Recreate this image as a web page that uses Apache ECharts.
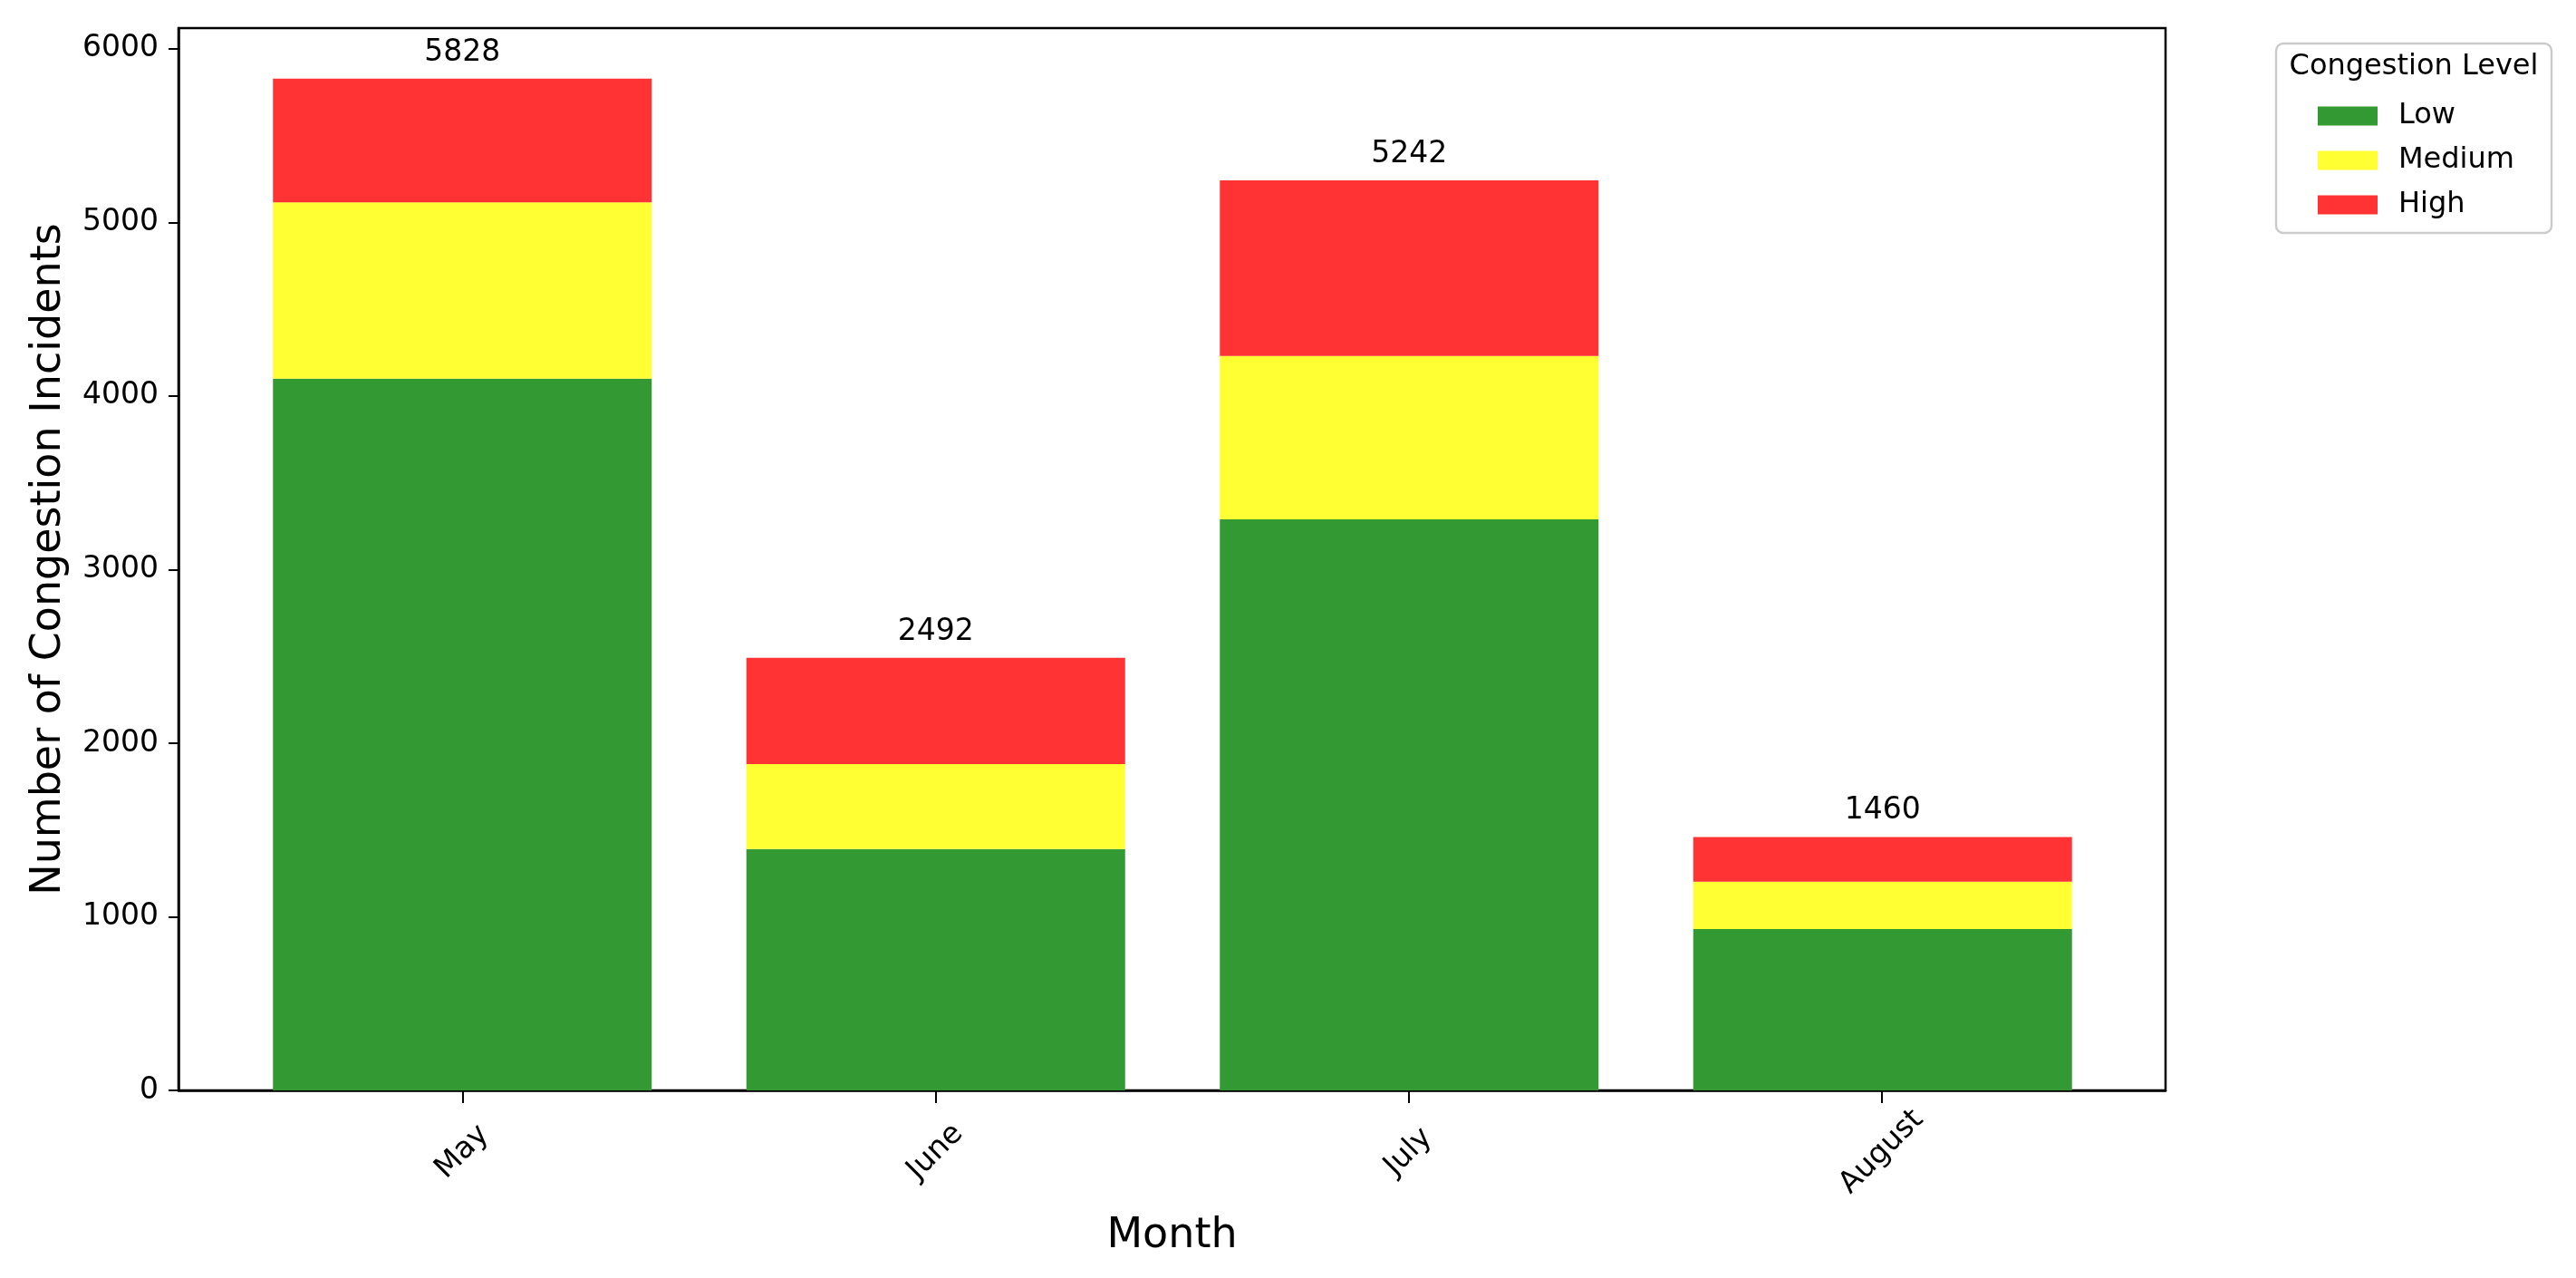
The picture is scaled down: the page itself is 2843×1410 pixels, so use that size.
<!DOCTYPE html>
<html>
<head>
<meta charset="utf-8">
<script src="https://cdn.jsdelivr.net/npm/echarts@6/dist/echarts.min.js"></script>
<style>
  html, body { margin: 0; padding: 0; background: #ffffff; }
  #chart { width: 2843px; height: 1410px; }
</style>
</head>
<body>
<div id="chart"></div>
<script>
const months = ['May', 'June', 'July', 'August'];
const monthPositions = [0, 1, 2, 3];
const lowValues = [4100, 1390, 3290, 930];
const mediumValues = [1015, 490, 940, 272];
const highValues = [713, 612, 1012, 258];
const totals = [5828, 2492, 5242, 1460];
const yTicks = [0, 1000, 2000, 3000, 4000, 5000, 6000];
const levelNames = ['Low', 'Medium', 'High'];
const levelColors = ['#339933', '#ffff33', '#ff3333'];

const FONT = 'DejaVu Sans';
const Y_MAX = totals[0] * 1.05;
const chart = echarts.init(document.getElementById('chart'), null, { renderer: 'canvas' });

const seriesValues = [lowValues, mediumValues, highValues];
const series = seriesValues.map((vals, k) => {
  const s = {
    name: levelNames[k],
    type: 'bar',
    stack: 'total',
    xAxisIndex: 1,
    yAxisIndex: 1,
    barWidth: '80%',
    data: vals,
    itemStyle: { color: levelColors[k] },
    emphasis: { disabled: true }
  };
  if (k === seriesValues.length - 1) {
    s.label = {
      show: true,
      position: 'top',
      distance: 12,
      formatter: p => String(totals[p.dataIndex]),
      fontFamily: FONT,
      fontSize: 33,
      color: '#000'
    };
  }
  return s;
});

const option = {
  backgroundColor: '#ffffff',
  animation: false,
  textStyle: { fontFamily: FONT },
  grid: [
    {
      left: 197, right: 453, top: 31, bottom: 207,
      show: true, borderColor: '#000', borderWidth: 2.5, backgroundColor: 'transparent'
    },
    {
      left: 249, right: 504, top: 31, bottom: 207,
      show: false
    }
  ],
  xAxis: [
    {
      type: 'value',
      gridIndex: 0,
      min: -0.6,
      max: 3.6,
      name: 'Month',
      nameLocation: 'middle',
      nameGap: 138,
      nameTextStyle: { fontFamily: FONT, fontSize: 46, color: '#000' },
      splitLine: { show: false },
      axisLine: { show: true, onZero: false, lineStyle: { color: '#000', width: 2.5 } },
      axisTick: { show: true, length: 14, customValues: monthPositions, lineStyle: { color: '#000', width: 2 } },
      axisLabel: {
        customValues: monthPositions,
        formatter: v => months[Math.round(v)] || '',
        rotate: 45,
        align: 'center',
        verticalAlign: 'middle',
        margin: 68,
        fontFamily: FONT,
        fontSize: 33,
        color: '#000'
      }
    },
    {
      type: 'category',
      gridIndex: 1,
      data: months,
      boundaryGap: true,
      show: false
    }
  ],
  yAxis: [
    {
      type: 'value',
      gridIndex: 0,
      min: 0,
      max: Y_MAX,
      name: 'Number of Congestion Incidents',
      nameLocation: 'middle',
      nameGap: 120,
      nameTextStyle: { fontFamily: FONT, fontSize: 46, color: '#000' },
      splitLine: { show: false },
      axisLine: { show: true, onZero: false, lineStyle: { color: '#000', width: 2.5 } },
      axisTick: { show: true, length: 11, customValues: yTicks, lineStyle: { color: '#000', width: 2 } },
      axisLabel: {
        customValues: yTicks,
        formatter: v => String(v),
        margin: 22,
        fontFamily: FONT,
        fontSize: 33,
        color: '#000'
      }
    },
    {
      type: 'value',
      gridIndex: 1,
      min: 0,
      max: Y_MAX,
      show: false,
      splitLine: { show: false }
    }
  ],
  legend: {
    data: levelNames,
    orient: 'vertical',
    left: 2553,
    top: 105,
    icon: 'rect',
    itemWidth: 66,
    itemHeight: 21,
    itemGap: 13,
    selectedMode: false,
    textStyle: { fontFamily: FONT, fontSize: 32, color: '#000', lineHeight: 36, padding: [0, 0, 0, 18] }
  },
  graphic: [
    {
      type: 'rect',
      z: 0,
      shape: { x: 2512, y: 48, width: 304, height: 209, r: 8 },
      style: { fill: '#ffffff', stroke: '#cccccc', lineWidth: 2.5 }
    },
    {
      type: 'text',
      z: 1,
      x: 2664,
      y: 74,
      style: {
        text: 'Congestion Level',
        fontFamily: FONT,
        fontSize: 32,
        fill: '#000',
        align: 'center',
        verticalAlign: 'middle'
      }
    }
  ],
  series: series
};

chart.setOption(option);
</script>
</body>
</html>
